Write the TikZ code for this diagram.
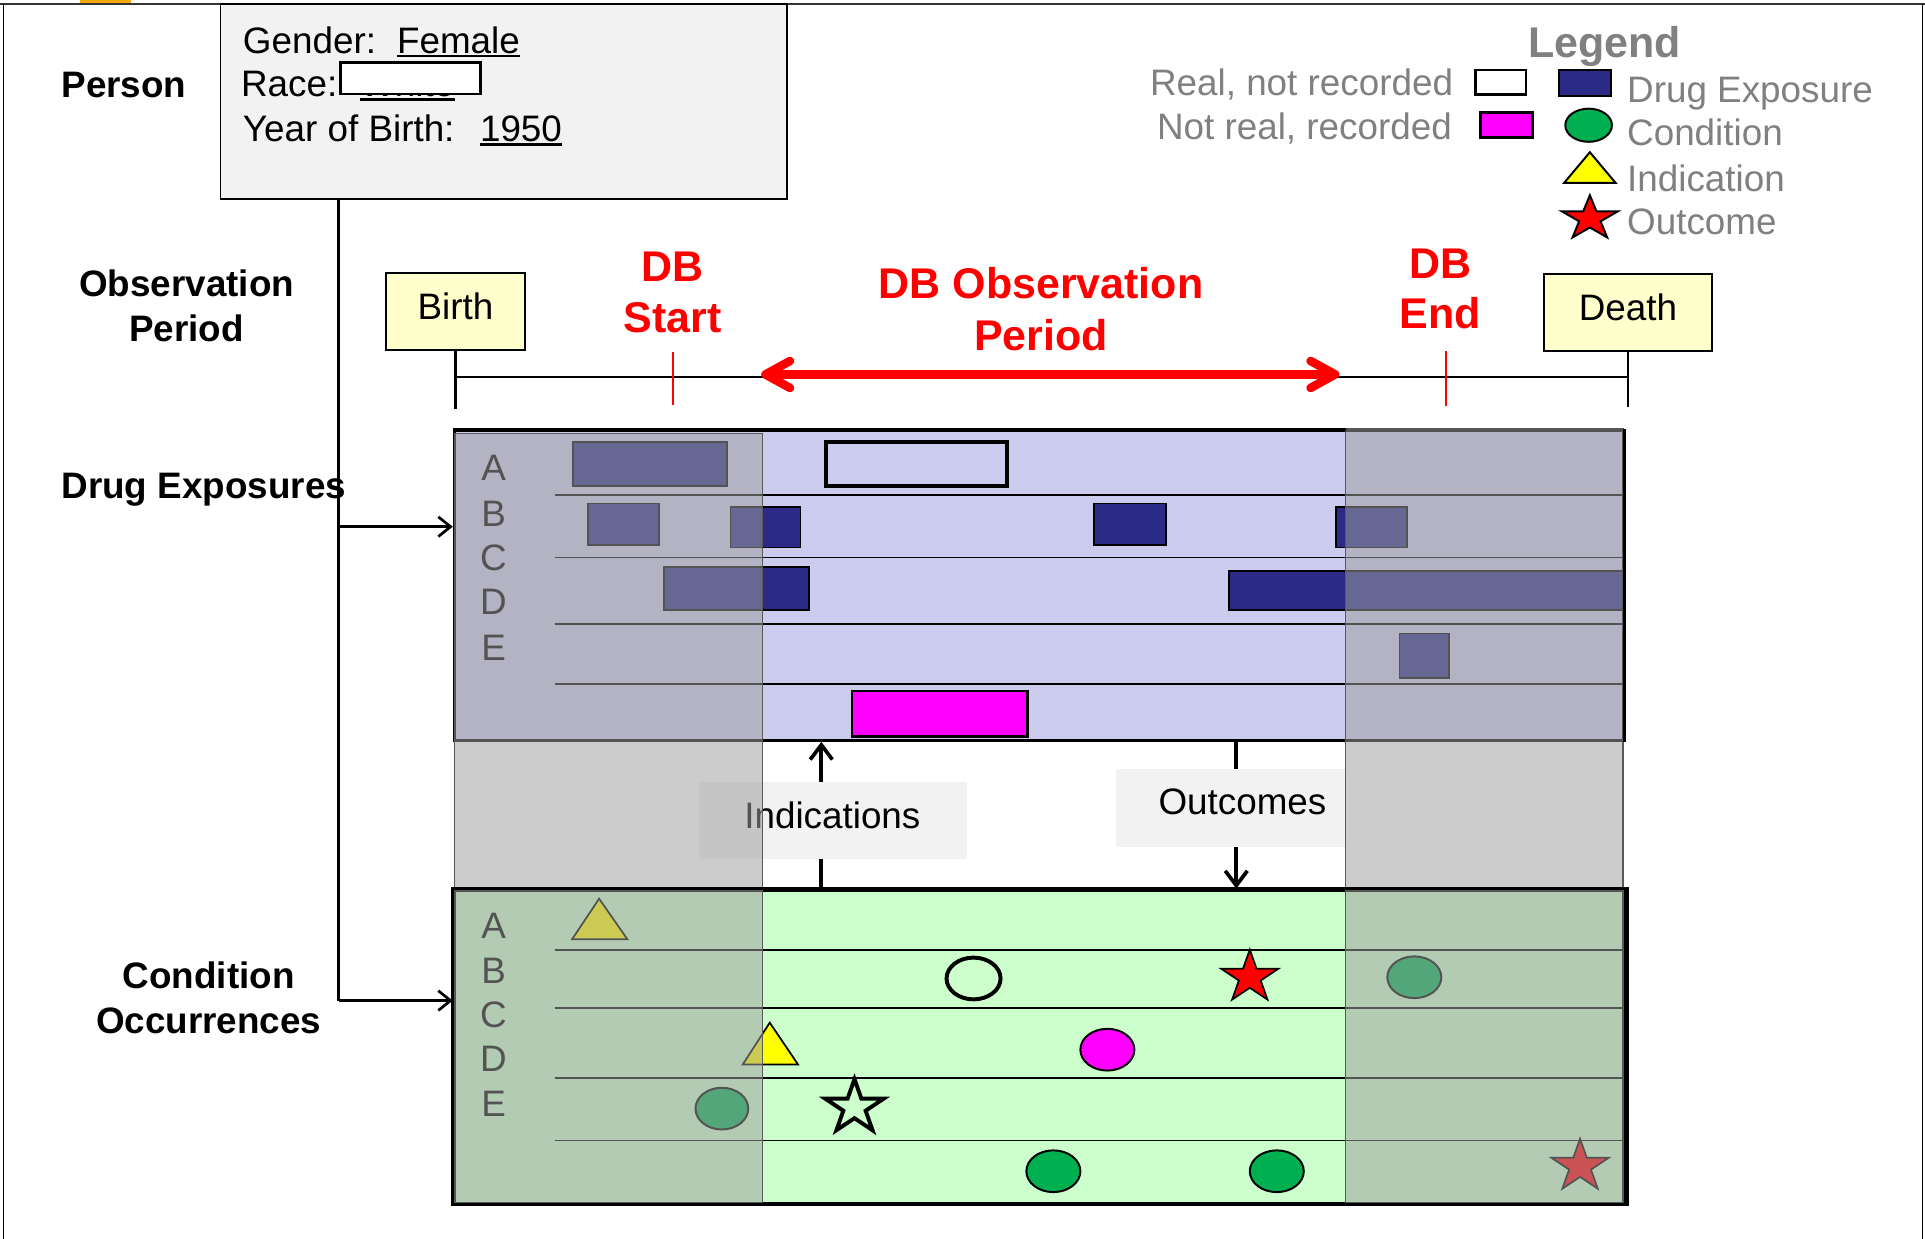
\documentclass[tikz,border=0pt]{standalone}
\usepackage{fontspec}
\setmainfont{Liberation Sans}
\usetikzlibrary{arrows.meta}

\definecolor{lav}{HTML}{CCCCEE}
\definecolor{mint}{HTML}{CCFFCC}
\definecolor{navy}{HTML}{2B2A87}
\definecolor{condgreen}{HTML}{00B050}
\definecolor{paleyellow}{HTML}{FFFFCC}
\definecolor{boxgray}{HTML}{F2F2F2}
\definecolor{legendgray}{HTML}{808080}
\definecolor{shade}{HTML}{9E9E9E}
\definecolor{tabor}{HTML}{F5A800}
\definecolor{brightmag}{RGB}{255,0,255}
\definecolor{brightyellow}{RGB}{255,255,0}
\definecolor{brightred}{RGB}{255,0,0}

\tikzset{
  % five-pointed star: #1 = x radius, #2 = y radius, #3 = path style
  pics/fivestar/.style args={#1/#2/#3}{code={
    \path[#3] plot[samples at={0,...,9}]
      ({#1*cos(-90+36*\x)*(1-0.618*mod(\x,2))},{#2*sin(-90+36*\x)*(1-0.618*mod(\x,2))}) -- cycle;
  }}
}

\begin{document}
\begin{tikzpicture}[x=0.5pt,y=-0.5pt,
  lbl/.style={inner sep=0pt, font=\fontsize{15pt}{18pt}\selectfont, text height=10.75pt, text depth=0pt},
  blbl/.style={lbl, font=\fontsize{15pt}{18pt}\selectfont\bfseries},
  redlbl/.style={inner sep=0pt, font=\fontsize{17.5pt}{21pt}\selectfont\bfseries, text=brightred, text height=12.5pt, text depth=0pt},
  lgtext/.style={lbl, text=legendgray},
  eventbox/.style={draw=black, line width=0.8pt, fill=paleyellow, inner sep=0pt, minimum height=31.5pt,
     font=\fontsize{15pt}{18pt}\selectfont, text height=10.75pt, text depth=4pt},
  graylabel/.style={fill=boxgray, inner sep=0pt, minimum height=32pt},
  panel/.style={inner sep=0pt, line width=1.2pt},
  panelline/.style={line width=1.3pt, black},
  rowline/.style={line width=0.7pt, black},
  bar/.style={fill=navy, draw=black, line width=0.7pt},
  conn/.style={line width=1.1pt, -{Straight Barb[length=5pt,width=8pt]}},
  gaparrow/.style={line width=1.5pt, -{Straight Barb[length=6pt,width=9pt]}},
  uline/.style={line width=0.9pt},
  overlay/.style={fill=shade, fill opacity=0.53, draw=black!65, line width=0.6pt},
  tick/.style={line width=1pt},
  redtick/.style={brightred, line width=0.6pt},
]
\useasboundingbox (0,0) rectangle (1568,1009);

% page frame
\fill[tabor] (65,0) rectangle (107,2.5);
\draw[line width=0.9pt, black!80] (0,3.5) -- (1568,3.5);
\draw[line width=0.6pt] (3,3.5) -- (3,1009);
\draw[line width=0.6pt] (1566,3.5) -- (1566,1009);

% ---------- person record ----------
\node[blbl] (personlbl) at (101,69) {Person};
\node[draw=black, line width=0.8pt, fill=boxgray, inner sep=0pt,
      minimum width=230.6pt, minimum height=79.2pt] (person) at (410.2,82.5) {};
\node[lbl, anchor=west] (gender) at (197.5,32.6) {Gender:};
\node[lbl, anchor=west] (female) at (323,32.6) {Female};
\draw[uline] ([yshift=-0.8pt]female.south west) -- ([yshift=-0.8pt]female.south east);
\node[lbl, anchor=west] (race) at (196,67.9) {Race:};
\node[lbl, anchor=west] (racevalue) at (293,67.9) {White};
\draw[uline] ([yshift=-1pt]racevalue.south west) -- ([yshift=-1pt]racevalue.south east);
\node[draw=black, line width=1.1pt, fill=white, inner sep=0pt,
      minimum width=57pt, minimum height=12.9pt] (racebox) at (334.5,63.7) {};
\node[lbl, anchor=west] (yob) at (197.5,104.5) {Year of Birth:};
\node[lbl, anchor=west] (yobvalue) at (390.6,104.5) {1950};
\draw[uline] ([yshift=-1pt]yobvalue.south west) -- ([yshift=-1pt]yobvalue.south east);

% ---------- legend ----------
\node[redlbl, text=legendgray] (legendtitle) at (1307,34) {Legend};
\node[lgtext, anchor=east] (realnr) at (1184,67) {Real, not recorded};
\node[lgtext, anchor=east] (notrealr) at (1183,103) {Not real, recorded};
\draw[line width=1.2pt] (1202,57) rectangle (1243,77);
\draw[fill=brightmag, draw=black, line width=1.2pt] (1206,92) rectangle (1248,112);
\draw[fill=navy, draw=black, line width=0.8pt] (1270,57) rectangle (1312,78);
\draw[fill=condgreen, draw=black, line width=0.8pt] (1294,102) ellipse [x radius=19, y radius=13.5];
\draw[fill=brightyellow, draw=black, line width=0.8pt] (1295,124) -- (1316,149) -- (1274,149) -- cycle;
\pic at (1295,178) {fivestar=24/19/{fill=brightred,draw=black,line width=0.8pt}};
\node[lgtext, anchor=west] (lgdrug) at (1325,73) {Drug Exposure};
\node[lgtext, anchor=west] (lgcond) at (1325,108) {Condition};
\node[lgtext, anchor=west] (lgind) at (1325,145) {Indication};
\node[lgtext, anchor=west] (lgout) at (1325,180) {Outcome};

% ---------- observation period timeline ----------
\node[blbl] (obslbl1) at (152,231) {Observation};
\node[blbl] (obslbl2) at (152,267) {Period};
\node[eventbox, minimum width=56.6pt] (birth) at (371,253.5) {Birth};
\node[eventbox, minimum width=68.5pt] (death) at (1326,254.5) {Death};
\coordinate (tl) at (0,307);
\draw[tick] (birth.south) -- ++(0,47);
\draw[tick] (death.south) -- ++(0,45);
\draw[tick] (birth.south |- tl) -- (death.south |- tl);

\node[redlbl] (dbs1) at (548,217) {DB};
\node[redlbl] (dbs2) at (548,258) {Start};
\draw[redtick] (548,287) -- (548,330);
\node[redlbl] (dbe1) at (1173,214) {DB};
\node[redlbl] (dbe2) at (1173,255) {End};
\draw[redtick] (1178,286) -- (1178,331);
\node[redlbl] (dbo1) at (848,231) {DB Observation};
\node[redlbl] (dbo2) at (848,273) {Period};
\coordinate (obsstart) at (620,305);
\coordinate (obsend) at (1091,305);
\draw[brightred, line width=3.5pt, line cap=round,
      {Straight Barb[length=10pt,width=11pt,round]}-{Straight Barb[length=10pt,width=11pt,round]}]
      (obsstart) -- (obsend);

% ---------- drug exposures ----------
\node[blbl] (druglbl) at (166,395) {Drug Exposures};
\node[panel, draw=black, fill=lav, minimum width=476pt, minimum height=126pt] (drugs) at (846,477) {};
\foreach \y in {403,454,508,557} \draw[rowline] (452,\y) -- (1322,\y);
\foreach \l/\y in {A/381,B/418,C/454,D/490,E/527}
  \node[lbl] (drug\l) at (402,\y) {\l};
\draw[bar] (467,360) rectangle (592,396);
\draw[bar] (479,410) rectangle (537,444);
\draw[bar] (595,413) rectangle (652,446);
\draw[bar] (541,462) rectangle (659,497);
\draw[bar] (891,410) rectangle (950,444);
\draw[bar] (1001,465) rectangle (1322,497);
\draw[bar] (1088,413) rectangle (1146,446);
\draw[bar] (1140,516) rectangle (1180,552);
\draw[line width=1.5pt] (673,360) rectangle (820,396);
\draw[fill=brightmag, draw=black, line width=1pt] (694,563) rectangle (837,600);

% ---------- condition occurrences ----------
\node[blbl] (condlbl1) at (170,794) {Condition};
\node[blbl] (condlbl2) at (170,831) {Occurrences};
\node[panel, draw=black, fill=mint, minimum width=477pt, minimum height=127.5pt] (conds) at (847,852.5) {};
\foreach \y in {774,821,878,929} \draw[rowline] (452,\y) -- (1326,\y);
\foreach \l/\y in {A/754,B/790,C/826,D/862,E/899}
  \node[lbl] (cond\l) at (402,\y) {\l};
\draw[fill=brightyellow, draw=black, line width=0.7pt] (488,732) -- (511,765) -- (466,765) -- cycle;
\draw[fill=brightyellow, draw=black, line width=0.7pt] (627,833) -- (650,867) -- (605,867) -- cycle;
\draw[line width=1.6pt] (793,797) ellipse [x radius=22, y radius=17];
\pic at (1018,796) {fivestar=24.5/22.5/{fill=brightred,draw=black,line width=0.7pt}};
\draw[fill=brightmag, draw=black, line width=0.8pt] (902,855) ellipse [x radius=22, y radius=17];
\pic at (696,902) {fivestar=25/23/{draw=black,line width=1.6pt}};
\draw[fill=condgreen, draw=black, line width=0.8pt] (588,903) ellipse [x radius=21.5, y radius=17];
\draw[fill=condgreen, draw=black, line width=0.8pt] (858,954) ellipse [x radius=22, y radius=17];
\draw[fill=condgreen, draw=black, line width=0.8pt] (1040,954) ellipse [x radius=22, y radius=17];
\draw[fill=condgreen, draw=black, line width=0.8pt] (1152,796) ellipse [x radius=22, y radius=17];
\pic at (1287,950) {fivestar=24.5/22.5/{fill=brightred,draw=black,line width=0.7pt}};

% ---------- person links ----------
\coordinate (trunktop) at ([xshift=48.5pt]person.south west);
\coordinate (drugin) at ([yshift=24pt]drugs.west);
\coordinate (condin) at ([yshift=18.75pt]conds.west);
\draw[line width=1.1pt] (trunktop) -- (trunktop |- condin);
\draw[conn] (trunktop |- drugin) -- (drugin);
\draw[conn] (trunktop |- condin) -- (condin);

% ---------- indications / outcomes ----------
\coordinate (indfoot) at (669,725);
\coordinate (outtop) at (1007,603);
\draw[gaparrow] (indfoot) -- (indfoot |- drugs.south);
\draw[gaparrow] (outtop) -- (outtop |- conds.north);
\node[graylabel, minimum width=109.5pt, minimum height=31.5pt] (indicbox) at (678.5,668.5) {};
\node[lbl] (indic) at (678,664) {Indications};
\node[graylabel, minimum width=93.5pt] (outcbox) at (1002.5,658) {};
\node[lbl] (outc) at (1012,653) {Outcomes};

% ---------- periods outside the database window ----------
\draw[overlay] (370,353) rectangle (621,980);
\draw[overlay] (1096,349) rectangle (1322,980);
\coordinate (rightcut) at (1096,0);
\draw[panelline] (drugs.north west) -- (drugs.north west -| rightcut);
\draw[panelline] (drugs.north east) -- (drugs.south east);
\draw[panelline] (conds.south west) rectangle (conds.north east);
\end{tikzpicture}
\end{document}
